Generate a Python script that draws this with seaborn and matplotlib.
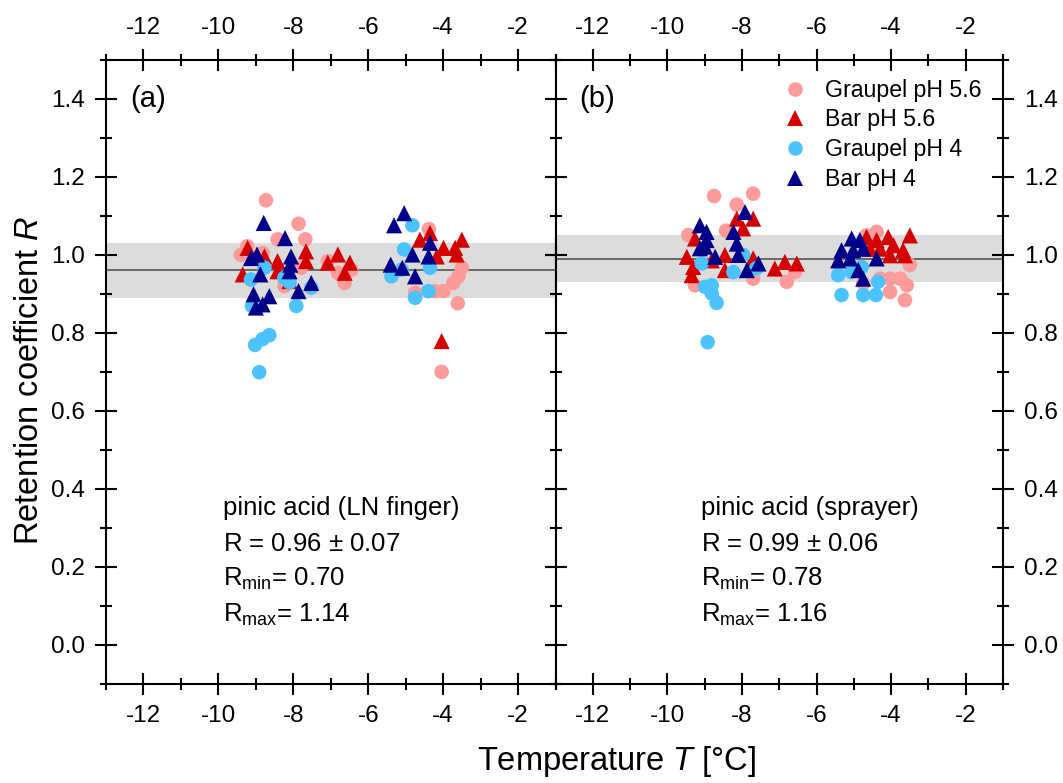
import pandas as pd
import matplotlib.pyplot as plt
import seaborn as sns
from matplotlib.ticker import MultipleLocator

# ---- data ----
series_names = ['Graupel pH 5.6', 'Bar pH 5.6', 'Graupel pH 4', 'Bar pH 4']

# panel (a): pinic acid, LN finger
Ta_g56 = [-8.73, -7.86, -7.68, -8.42, -9.40, -8.82, -7.79, -7.08, -6.81, -6.63, -6.45, -8.24, -9.23,
          -4.38, -3.50, -3.59, -3.73, -3.99, -4.22, -4.75, -3.61, -4.04]
Ra_g56 = [1.14, 1.08, 1.04, 1.04, 1.00, 1.005, 0.967, 0.984, 0.954, 0.928, 0.962, 0.92, 1.022,
          1.066, 0.967, 0.945, 0.928, 0.907, 0.907, 0.903, 0.876, 0.70]
Ta_b56 = [-9.22, -9.35, -8.42, -8.42, -7.66, -7.66, -6.81, -6.49, -6.63, -7.08, -8.10, -8.77,
          -4.62, -4.35, -3.99, -3.50, -3.64, -4.17, -4.04, -3.68]
Ra_b56 = [1.018, 0.95, 0.984, 0.958, 1.009, 0.984, 1.001, 0.98, 0.954, 0.98, 0.933, 0.996,
          1.039, 1.056, 1.018, 1.039, 1.001, 0.996, 0.779, 1.018]
Ta_g4 = [-8.77, -9.13, -8.24, -8.10, -7.52, -7.92, -9.10, -8.64, -8.82, -9.02, -8.91,
         -4.82, -5.04, -5.38, -4.35, -4.75, -4.39, -5.11]
Ra_g4 = [0.967, 0.937, 0.941, 0.93, 0.916, 0.869, 0.869, 0.794, 0.784, 0.769, 0.699,
         1.076, 1.014, 0.945, 0.967, 0.89, 0.907, 0.962]
Ta_b4 = [-8.79, -8.22, -8.97, -9.13, -8.06, -8.08, -8.10, -8.88, -7.52, -7.86, -9.06, -8.64, -8.82, -9.00,
         -5.04, -5.31, -4.35, -4.82, -4.39, -5.40, -5.09, -4.75]
Ra_b4 = [1.082, 1.043, 1.001, 0.992, 0.996, 0.975, 0.958, 0.95, 0.928, 0.907, 0.899, 0.894, 0.873, 0.865,
         1.107, 1.076, 1.031, 1.001, 0.996, 0.975, 0.967, 0.945]

# panel (b): pinic acid, sprayer
Tb_g56 = [-8.75, -7.70, -8.14, -9.44, -8.43, -9.26, -7.70, -6.80, -6.58,
          -4.39, -4.66, -3.50, -4.03, -3.76, -3.58, -4.03, -3.63, -4.30, -4.75]
Rb_g56 = [1.151, 1.157, 1.129, 1.051, 1.062, 0.922, 0.939, 0.931, 0.956,
          1.059, 1.05, 0.974, 0.939, 0.939, 0.922, 0.905, 0.884, 0.939, 0.927]
Tb_b56 = [-8.14, -7.70, -7.97, -9.26, -9.48, -9.31, -9.35, -8.46, -8.46, -7.70, -7.12, -6.85, -6.53, -8.81,
          -4.66, -4.39, -4.08, -3.50, -3.94, -4.30, -3.68, -3.63, -4.03, -4.57]
Rb_b56 = [1.093, 1.093, 1.068, 1.042, 0.995, 0.969, 0.948, 1.0, 0.961, 0.991, 0.965, 0.982, 0.978, 0.986,
          1.046, 1.038, 1.046, 1.05, 1.025, 1.016, 1.012, 0.999, 0.999, 1.016]
Tb_g4 = [-9.08, -8.99, -8.81, -8.81, -8.68, -8.92, -8.23, -7.97, -7.61,
         -5.42, -5.06, -5.33, -4.75, -4.41, -4.35, -4.79]
Rb_g4 = [0.978, 0.918, 0.922, 0.901, 0.877, 0.776, 0.956, 1.0, 0.966,
         0.948, 0.956, 0.897, 0.897, 0.897, 0.931, 0.969]
Tb_b4 = [-9.13, -8.95, -8.95, -8.99, -9.13, -8.72, -8.23, -8.14, -8.10, -7.92, -7.87, -7.56,
         -5.06, -4.84, -5.33, -4.75, -5.42, -5.10, -4.39, -4.88, -4.75, -5.02]
Rb_b4 = [1.076, 1.059, 1.038, 1.021, 1.017, 0.995, 1.059, 1.029, 1.0, 1.11, 0.961, 0.978,
         1.042, 1.038, 1.012, 1.016, 0.986, 0.991, 0.991, 0.961, 0.939, 1.012]

# mean +- sd and extremes
R_mean = [0.96, 0.99]
R_sd = [0.07, 0.06]
R_min = [0.70, 0.78]
R_max = [1.14, 1.16]
panel_titles = ['pinic acid (LN finger)', 'pinic acid (sprayer)']
panel_tags = ['(a)', '(b)']

colors = {'Graupel pH 5.6': '#ff9b9b', 'Bar pH 5.6': '#d40000',
          'Graupel pH 4': '#4cc3ff', 'Bar pH 4': '#000088'}
markers = {'Graupel pH 5.6': 'o', 'Bar pH 5.6': '^', 'Graupel pH 4': 'o', 'Bar pH 4': '^'}
sizes = {'Graupel pH 5.6': 110, 'Bar pH 5.6': 135, 'Graupel pH 4': 110, 'Bar pH 4': 135}


def make_df(parts):
    rows = []
    for name, (t, r) in zip(series_names, parts):
        for a, b in zip(t, r):
            rows.append({'T': a, 'R': b, 'series': name})
    return pd.DataFrame(rows)


df_a = make_df([(Ta_g56, Ra_g56), (Ta_b56, Ra_b56), (Ta_g4, Ra_g4), (Ta_b4, Ra_b4)])
df_b = make_df([(Tb_g56, Rb_g56), (Tb_b56, Rb_b56), (Tb_g4, Rb_g4), (Tb_b4, Rb_b4)])

sns.set_theme(style='white')
plt.rcParams['font.family'] = ['Liberation Sans', 'DejaVu Sans']
plt.rcParams['mathtext.fontset'] = 'custom'
plt.rcParams['mathtext.rm'] = 'Liberation Sans'
plt.rcParams['mathtext.it'] = 'Liberation Sans:italic'
plt.rcParams['axes.unicode_minus'] = False
plt.rcParams['text.color'] = 'black'
plt.rcParams['axes.labelcolor'] = 'black'

fig = plt.figure(figsize=(10.63, 7.83), dpi=100)
ax_a = fig.add_axes([0.0997, 0.1268, 0.4229, 0.7966])
ax_b = fig.add_axes([0.5226, 0.1268, 0.4210, 0.7966])

for i, (ax, df) in enumerate([(ax_a, df_a), (ax_b, df_b)]):
    ax.axhspan(R_mean[i] - R_sd[i], R_mean[i] + R_sd[i], color='#dcdcdc', lw=0, zorder=0)
    ax.axhline(R_mean[i], color='#555555', lw=1.2, zorder=1)
    sns.scatterplot(data=df, x='T', y='R', hue='series', style='series', size='series',
                    palette=colors, markers=markers, sizes=sizes, linewidth=0,
                    alpha=1, legend=(i == 1), ax=ax, zorder=3)
    ax.set_xlim(-13, -1)
    ax.set_ylim(-0.1, 1.5)
    ax.set_xlabel('')
    ax.set_ylabel('')
    ax.xaxis.set_major_locator(MultipleLocator(2))
    ax.xaxis.set_minor_locator(MultipleLocator(1))
    ax.yaxis.set_major_locator(MultipleLocator(0.2))
    ax.yaxis.set_minor_locator(MultipleLocator(0.1))
    ax.tick_params(which='both', direction='inout', top=True, bottom=True, left=True, right=True,
                   labeltop=True, labelbottom=True, width=1.5, colors='black')
    ax.tick_params(which='major', length=16, labelsize=17.5, pad=7)
    ax.tick_params(which='minor', length=8)
    for sp in ax.spines.values():
        sp.set_linewidth(1.5)
        sp.set_color('black')
    ax.text(-12.36, 1.4, panel_tags[i], fontsize=21, va='center', ha='left')
    tx = -9.87 if i == 0 else -9.1
    ax.text(tx, 0.333, panel_titles[i], fontsize=18.5, va='baseline')
    ax.text(tx, 0.240, f'R = {R_mean[i]:.2f} $\\pm$ {R_sd[i]:.2f}', fontsize=18.5, va='baseline')
    ax.text(tx, 0.150, f'R$_{{\\rm min}}$= {R_min[i]:.2f}', fontsize=18.5, va='baseline')
    ax.text(tx, 0.058, f'R$_{{\\rm max}}$= {R_max[i]:.2f}', fontsize=18.5, va='baseline')

ax_a.tick_params(labelleft=True, labelright=False)
ax_b.tick_params(labelleft=False, labelright=True)
ax_a.yaxis.set_major_formatter(plt.FuncFormatter(lambda v, p: f'{v:.1f}'))
ax_b.yaxis.set_major_formatter(plt.FuncFormatter(lambda v, p: f'{v:.1f}'))

sns.move_legend(ax_b, 'upper left', bbox_to_anchor=(0.509, 0.970), frameon=False, title=None,
                fontsize=16.7, handlelength=1.0, handletextpad=0.8, labelspacing=0.29,
                borderpad=0, borderaxespad=0)

fig.text(0.0282, 0.5147, 'Retention coefficient $R$', rotation=90, fontsize=23.5,
         ha='center', va='center')
fig.text(0.58, 0.016, 'Temperature $T$ [°C]', fontsize=23.5, ha='center', va='baseline')

fig.savefig('out.png', dpi=100)
